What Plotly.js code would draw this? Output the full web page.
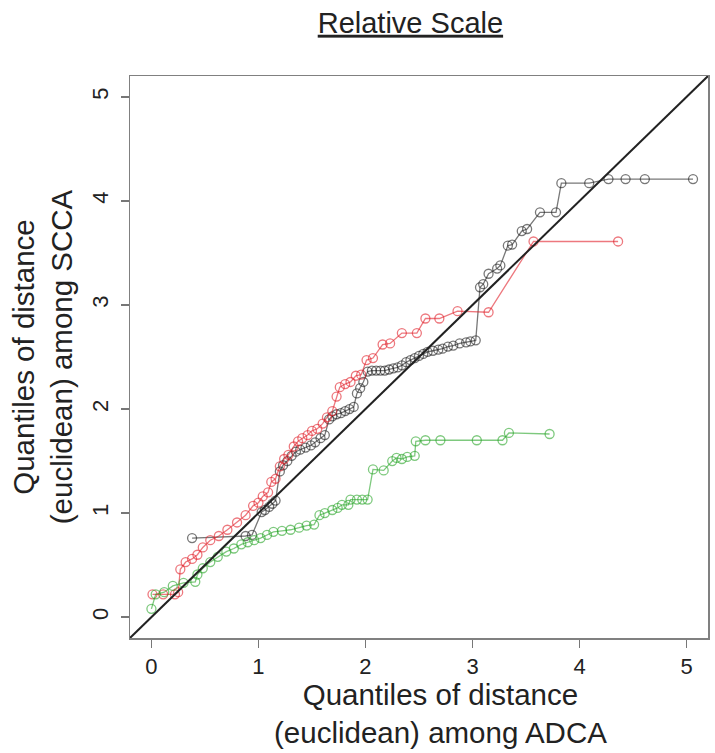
<!DOCTYPE html>
<html>
<head>
<meta charset="utf-8">
<script src="https://cdn.plot.ly/plotly-3.0.1.min.js"></script>
<style>html,body{margin:0;padding:0;background:#fff;}#chart{width:715px;height:753px;}</style>
</head>
<body>
<div id="chart"></div>
<script>
// Black series (quantile pairs)
const blackX = [0.38,0.88,0.94,1.03,1.06,1.10,1.13,1.16,1.20,1.23,1.27,1.31,1.35,1.39,1.44,1.49,1.53,1.58,1.62,1.66,1.69,1.73,1.77,1.81,1.85,1.89,1.92,1.95,1.98,2.02,2.06,2.10,2.14,2.18,2.22,2.26,2.30,2.34,2.38,2.42,2.46,2.50,2.54,2.58,2.63,2.68,2.72,2.77,2.82,2.88,2.94,2.98,3.03,3.07,3.10,3.15,3.23,3.26,3.33,3.37,3.46,3.51,3.63,3.78,3.83,4.09,4.27,4.43,4.61,5.06];
const blackY = [0.76,0.78,0.79,1.01,1.03,1.06,1.09,1.12,1.40,1.46,1.50,1.55,1.59,1.61,1.63,1.65,1.68,1.72,1.75,1.90,1.93,1.95,1.96,1.98,2.00,2.02,2.15,2.20,2.26,2.36,2.37,2.37,2.37,2.37,2.38,2.39,2.40,2.42,2.45,2.47,2.49,2.51,2.53,2.55,2.56,2.57,2.58,2.60,2.61,2.63,2.64,2.65,2.66,3.17,3.20,3.30,3.35,3.38,3.57,3.58,3.71,3.73,3.89,3.89,4.17,4.17,4.21,4.21,4.21,4.21];

// Red series
const redX = [0.01,0.11,0.22,0.25,0.27,0.32,0.38,0.43,0.48,0.55,0.63,0.71,0.80,0.88,0.95,1.00,1.04,1.09,1.12,1.16,1.20,1.24,1.28,1.33,1.37,1.41,1.46,1.50,1.55,1.60,1.64,1.69,1.73,1.76,1.81,1.86,1.91,1.96,2.01,2.07,2.16,2.23,2.34,2.48,2.56,2.69,2.86,3.15,3.57,4.36];
const redY = [0.22,0.22,0.22,0.24,0.46,0.53,0.56,0.60,0.67,0.74,0.78,0.84,0.91,0.98,1.07,1.10,1.16,1.20,1.30,1.33,1.45,1.52,1.56,1.64,1.69,1.72,1.75,1.79,1.81,1.86,1.92,1.98,2.12,2.21,2.24,2.26,2.32,2.33,2.47,2.49,2.62,2.63,2.73,2.73,2.87,2.87,2.94,2.93,3.61,3.61];

// Green series
const greenX = [0.00,0.04,0.12,0.20,0.30,0.41,0.43,0.48,0.55,0.62,0.70,0.77,0.84,0.90,0.96,1.02,1.08,1.14,1.22,1.30,1.38,1.45,1.52,1.57,1.62,1.69,1.74,1.78,1.84,1.86,1.92,1.97,2.02,2.07,2.17,2.25,2.29,2.34,2.39,2.46,2.47,2.56,2.70,3.04,3.28,3.34,3.72];
const greenY = [0.08,0.22,0.24,0.30,0.33,0.34,0.41,0.47,0.53,0.58,0.63,0.66,0.70,0.72,0.74,0.76,0.79,0.82,0.83,0.84,0.86,0.88,0.89,0.98,1.00,1.03,1.05,1.08,1.08,1.13,1.13,1.13,1.13,1.42,1.41,1.50,1.53,1.52,1.54,1.55,1.69,1.70,1.70,1.70,1.70,1.77,1.76];

// Axis limits and reference line y = x
const axisRange = [-0.2, 5.2];
const tickVals = [0, 1, 2, 3, 4, 5];
const tickText = ['0', '1', '2', '3', '4', '5'];

const FONT = 'Liberation Sans, Arial, Helvetica, sans-serif';

function series(x, y, col) {
  return {
    x: x, y: y, type: 'scatter', mode: 'lines+markers',
    line: {color: col, width: 1.3},
    marker: {symbol: 'circle-open', size: 9, color: col, line: {width: 1.3, color: col}},
    hoverinfo: 'x+y', showlegend: false
  };
}

const traces = [
  series(blackX, blackY, 'rgba(30,30,30,0.6)'),
  series(redX, redY, 'rgba(225,30,40,0.6)'),
  series(greenX, greenY, 'rgba(40,165,40,0.6)'),
  {x: axisRange, y: axisRange, type: 'scatter', mode: 'lines',
   line: {color: '#222', width: 2}, hoverinfo: 'skip', showlegend: false}
];

const axisCommon = {
  range: axisRange, tickvals: tickVals, ticktext: tickText,
  ticks: 'outside', ticklen: 8, tickwidth: 1.5, tickcolor: '#777',
  showline: true, mirror: true, linecolor: '#808080', linewidth: 1.5,
  showgrid: false, zeroline: false,
  tickfont: {family: FONT, size: 22, color: '#222'}
};

const layout = {
  width: 715, height: 753,
  margin: {l: 130, r: 7, t: 76, b: 115},
  paper_bgcolor: '#fff', plot_bgcolor: '#fff',
  title: {text: '<u>Relative Scale</u>', x: 0.574, xanchor: 'center', y: 0.97, yanchor: 'middle',
          font: {family: FONT, size: 29, color: '#222'}},
  xaxis: Object.assign({}, axisCommon, {title: {text: ''}}),
  yaxis: Object.assign({}, axisCommon, {
    tickangle: -90,
    ticklabelstandoff: 4,
    title: {text: 'Quantiles of distance<br>(euclidean) among SCCA', font: {family: FONT, size: 29.5, color: '#222'}, standoff: 6}
  }),
  annotations: [{
    text: 'Quantiles of distance<br>(euclidean) among ADCA',
    xref: 'paper', yref: 'paper', x: 0.538, y: 0, xanchor: 'center', yanchor: 'top',
    yshift: -38, showarrow: false,
    font: {family: FONT, size: 29.5, color: '#222'}
  }]
};

Plotly.newPlot('chart', traces, layout, {staticPlot: true, displayModeBar: false});
</script>
</body>
</html>
